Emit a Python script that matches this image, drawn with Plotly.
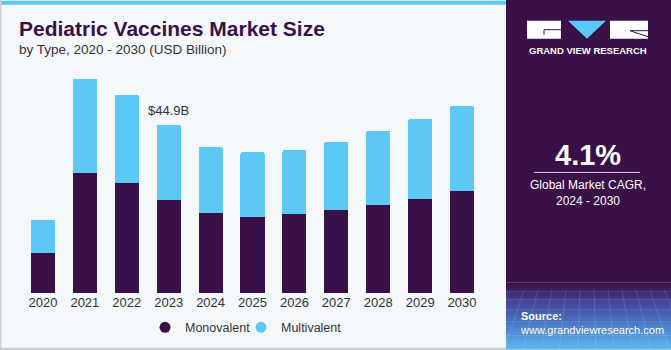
import plotly.graph_objects as go

years = ["2020", "2021", "2022", "2023", "2024", "2025", "2026", "2027", "2028", "2029", "2030"]
monovalent = [10.7, 31.9, 29.4, 24.8, 21.4, 20.4, 21.2, 22.2, 23.6, 25.2, 27.1]
multivalent = [8.9, 25.3, 23.5, 20.1, 17.6, 17.2, 16.9, 18.2, 19.7, 21.2, 22.7]
label_year = "2023"
label_text = "$44.9B"

MONO = "#3a1048"
MULTI = "#5bc8f5"
BG = "#f4f8fb"

W, H = 671, 350
L, R_EDGE = 22, 483
BASE, TOP = 293.3, 68.3


def X(px):
    return (px - L) / (R_EDGE - L)


def Y(py):
    return (BASE - py) / (BASE - TOP)


fig = go.Figure()
fig.add_trace(go.Bar(x=years, y=monovalent, name="Monovalent", marker=dict(color=MONO, line=dict(width=0)),
                     showlegend=False))
fig.add_trace(go.Bar(x=years, y=multivalent, name="Multivalent", marker=dict(color=MULTI, line=dict(width=0)),
                     showlegend=False))
# legend entries with circle symbols
fig.add_trace(go.Scatter(x=[years[0]], y=[None], mode="markers", name="Monovalent", legend="legend",
                         marker=dict(color=MONO, size=11, symbol="circle")))
fig.add_trace(go.Scatter(x=[years[0]], y=[None], mode="markers", name="Multivalent", legend="legend2",
                         marker=dict(color=MULTI, size=11, symbol="circle")))

idx = years.index(label_year)
fig.add_annotation(x=idx, y=monovalent[idx] + multivalent[idx], text=label_text, showarrow=False,
                   yanchor="bottom", yshift=5, font=dict(family="Liberation Sans", size=13, color="#333333"))

shapes = []
# top stripe and borders
shapes.append(dict(type="rect", xref="paper", yref="paper", x0=X(0), x1=X(506), y0=Y(5), y1=Y(1),
                   fillcolor=MULTI, line=dict(width=0), layer="below"))
shapes.append(dict(type="rect", xref="paper", yref="paper", x0=X(0), x1=X(1.5), y0=Y(350), y1=Y(0),
                   fillcolor="#d0d3d6", line=dict(width=0), layer="below"))
shapes.append(dict(type="rect", xref="paper", yref="paper", x0=X(0), x1=X(671), y0=Y(350), y1=Y(348),
                   fillcolor="#c8cbce", line=dict(width=0), layer="below"))

# right panel
shapes.append(dict(type="rect", xref="paper", yref="paper", x0=X(506), x1=X(671), y0=Y(283), y1=Y(0),
                   fillcolor=MONO, line=dict(width=0), layer="below"))
# gradient bottom of panel
stops = [(283, (58, 16, 72)), (300, (68, 66, 150)), (322, (74, 118, 196)), (348, (92, 184, 239))]
step = 2
y = 283
while y < 348:
    for i in range(len(stops) - 1):
        if stops[i][0] <= y < stops[i + 1][0]:
            a, b = stops[i], stops[i + 1]
            t = (y - a[0]) / (b[0] - a[0])
            c = tuple(int(a[1][k] + (b[1][k] - a[1][k]) * t) for k in range(3))
            break
    shapes.append(dict(type="rect", xref="paper", yref="paper", x0=X(506), x1=X(671), y0=Y(y + step + 0.5),
                       y1=Y(y), fillcolor="rgb(%d,%d,%d)" % c, line=dict(width=0), layer="below"))
    y += step
# faint grid lines in gradient area
for gx in range(510, 671, 14):
    shapes.append(dict(type="line", xref="paper", yref="paper", x0=X(gx), x1=X(gx + (gx - 588) * 0.3),
                       y0=Y(290), y1=Y(348), line=dict(color="rgba(255,255,255,0.12)", width=1), layer="below"))
for gy in [292, 300, 310, 322, 336]:
    shapes.append(dict(type="line", xref="paper", yref="paper", x0=X(506), x1=X(671), y0=Y(gy), y1=Y(gy),
                       line=dict(color="rgba(255,255,255,0.12)", width=1), layer="below"))

# logo
shapes.append(dict(type="rect", xref="paper", yref="paper", x0=X(527), x1=X(561), y0=Y(39), y1=Y(21),
                   fillcolor="white", line=dict(width=0)))
shapes.append(dict(type="line", xref="paper", yref="paper", x0=X(544), x1=X(561), y0=Y(30), y1=Y(30),
                   line=dict(color=MONO, width=1)))
shapes.append(dict(type="line", xref="paper", yref="paper", x0=X(544), x1=X(544), y0=Y(30), y1=Y(35),
                   line=dict(color=MONO, width=1)))
shapes.append(dict(type="path", xref="paper", yref="paper",
                   path="M %f %f L %f %f L %f %f Z" % (X(568), Y(21), X(606), Y(21), X(587), Y(39)),
                   fillcolor=MULTI, line=dict(width=0)))
shapes.append(dict(type="rect", xref="paper", yref="paper", x0=X(610), x1=X(648), y0=Y(39), y1=Y(21),
                   fillcolor="white", line=dict(width=0)))
shapes.append(dict(type="line", xref="paper", yref="paper", x0=X(630), x1=X(648), y0=Y(31), y1=Y(37),
                   line=dict(color=MONO, width=1)))
shapes.append(dict(type="line", xref="paper", yref="paper", x0=X(630), x1=X(648), y0=Y(31), y1=Y(31),
                   line=dict(color=MONO, width=1)))
# CAGR separator
shapes.append(dict(type="line", xref="paper", yref="paper", x0=X(534), x1=X(640), y0=Y(172.7), y1=Y(172.7),
                   line=dict(color="rgba(255,255,255,0.8)", width=1)))

annos = [
    dict(text="<b>Pediatric Vaccines Market Size</b>", x=X(17), y=Y(29), xanchor="left", yanchor="middle",
         font=dict(family="Liberation Sans", size=21, color=MONO)),
    dict(text="by Type, 2020 - 2030 (USD Billion)", x=X(17), y=Y(50), xanchor="left", yanchor="middle",
         font=dict(family="Liberation Sans", size=13.5, color="#333333")),
    dict(text="<b>GRAND VIEW RESEARCH</b>", x=X(587.5), y=Y(51), xanchor="center", yanchor="middle",
         font=dict(family="Liberation Sans", size=9.5, color="white")),
    dict(text="<b>4.1%</b>", x=X(588), y=Y(155), xanchor="center", yanchor="middle",
         font=dict(family="Liberation Sans", size=29, color="white")),
    dict(text="Global Market CAGR,<br>2024 - 2030", x=X(588), y=Y(193), xanchor="center", yanchor="middle",
         font=dict(family="Liberation Sans", size=12, color="white")),
    dict(text="<b>Source:</b><br>www.grandviewresearch.com", x=X(518), y=Y(323), xanchor="left",
         yanchor="middle", align="left", font=dict(family="Liberation Sans", size=11, color="white")),
]
for a in annos:
    a.update(xref="paper", yref="paper", showarrow=False)
    fig.add_annotation(**a)

legend_common = dict(orientation="h", y=Y(328), xanchor="left", yanchor="middle",
                     font=dict(family="Liberation Sans", size=12.5, color="#333333"),
                     bgcolor="rgba(0,0,0,0)", itemwidth=30)

fig.update_layout(
    width=W, height=H,
    margin=dict(l=L, r=W - R_EDGE, t=TOP, b=H - BASE, pad=0, autoexpand=False),
    paper_bgcolor=BG, plot_bgcolor="rgba(0,0,0,0)",
    barmode="stack", bargap=0.427, barcornerradius=2,
    shapes=shapes,
    showlegend=True,
    legend=dict(x=X(145), **legend_common),
    legend2=dict(x=X(241), **legend_common),
    font=dict(family="Liberation Sans"),
)
fig.update_xaxes(type="category", range=[-0.5, len(years) - 0.5], showgrid=False, zeroline=False,
                 showline=False, ticks="", tickfont=dict(family="Liberation Sans", size=13, color="#333333"))
fig.update_yaxes(range=[0, 60], visible=False, fixedrange=True)

fig.write_html("out.html")
